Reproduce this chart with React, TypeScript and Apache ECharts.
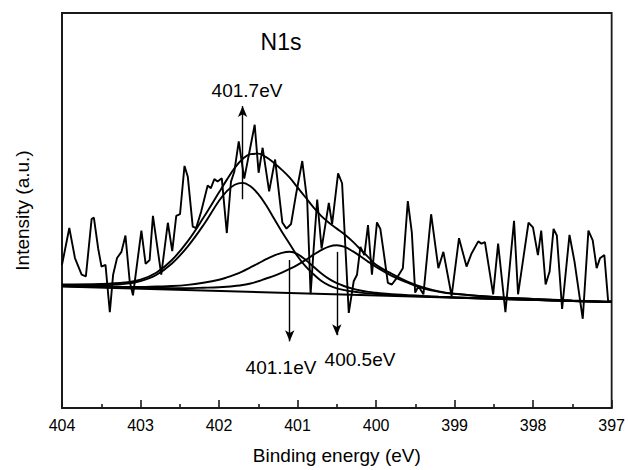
import React, { useEffect, useRef } from 'react';
import * as echarts from 'echarts';

// Raw N1s spectrum (binding energy in eV, intensity in arbitrary units)
const rawEnergy = [404.0, 403.907, 403.835, 403.75, 403.696, 403.623, 403.594, 403.54, 403.497, 403.446, 403.391, 403.349, 403.299, 403.243, 403.192, 403.138, 403.096, 402.989, 402.935, 402.884, 402.842, 402.736, 402.652, 402.596, 402.545, 402.497, 402.44, 402.398, 402.335, 402.292, 402.229, 402.145, 402.104, 402.06, 402.018, 401.965, 401.901, 401.848, 401.806, 401.749, 401.679, 401.546, 401.496, 401.445, 401.362, 401.286, 401.194, 401.141, 401.083, 401.024, 400.94, 400.877, 400.834, 400.792, 400.75, 400.694, 400.602, 400.56, 400.484, 400.433, 400.348, 400.285, 400.243, 400.2, 400.149, 400.103, 400.053, 399.989, 399.946, 399.904, 399.85, 399.799, 399.736, 399.659, 399.596, 399.545, 399.502, 399.46, 399.397, 399.299, 399.207, 399.143, 399.038, 398.944, 398.848, 398.784, 398.699, 398.658, 398.614, 398.509, 398.446, 398.353, 398.243, 398.192, 398.059, 398.002, 397.939, 397.897, 397.841, 397.79, 397.74, 397.698, 397.631, 397.537, 397.473, 397.368, 397.296, 397.241, 397.191, 397.149, 397.093, 397.045, 397.0];
const rawIntensity = [146, 183.7, 153, 136, 134.3, 192.7, 194.3, 163, 144.3, 146, 97.7, 136, 153, 159.3, 176, 129.3, 115, 181, 147, 151, 196, 136, 189, 160, 196, 197.7, 247, 236, 185, 183.5, 200, 227, 224.3, 233.5, 231, 234.3, 178.5, 231, 241, 272, 234, 289, 240, 265.5, 221, 253.5, 189.3, 183, 187.7, 216, 252, 211, 116, 166, 212.7, 162.7, 209.3, 187.7, 239.3, 229.3, 97, 129.3, 136, 164.3, 156, 186.7, 136, 189.3, 182.7, 159.3, 127.7, 126, 132.7, 142.7, 211, 179.3, 117.7, 124.3, 116, 197.7, 142.7, 159.3, 114.3, 173.3, 144.3, 157.7, 170, 167.7, 169.3, 116, 167.7, 97.7, 191, 116, 189, 184.3, 156, 181, 126, 139.3, 182.7, 176, 101, 176.7, 149.3, 91, 181, 171, 142.7, 152.7, 156, 109.3, 109];

// Fitted curves
const fitEnergy = [404.0, 403.5, 403.2, 403.0, 402.8, 402.6, 402.4, 402.2, 402.0, 401.9, 401.8, 401.7, 401.6, 401.5, 401.4, 401.3, 401.2, 401.1, 401.0, 400.9, 400.8, 400.7, 400.6, 400.5, 400.4, 400.3, 400.2, 400.1, 400.0, 399.8, 399.6, 399.4, 399.2, 399.0, 398.5, 398.0, 397.5, 397.0];
const envelope = [126, 126.5, 128, 131, 138, 151, 170, 194, 220, 233, 245, 254, 259, 259.5, 256, 250, 243, 235, 225, 215, 205, 196, 189, 183, 177, 170, 162, 154, 146, 137, 129, 123, 119, 116.5, 113.2, 111.2, 109.6, 108.3];
const peak4017 = [125.1, 125.1, 126.6, 129.5, 135.7, 147.4, 164.7, 186.5, 211.5, 221.3, 227.8, 229.7, 226.2, 218.2, 206.9, 193.3, 179.8, 167.4, 154.8, 144.7, 136.7, 129.8, 125.1, 122.1, 120.2, 118.8, 117.7, 117.0, 116.3, 115.4, 114.6, 113.9, 113.2, 112.6, 111.4, 110.3, 109.1, 108.0];
const peak4011 = [124.5, 123.8, 123.4, 123.4, 123.9, 124.4, 125.6, 127.8, 130.8, 133.2, 136.1, 139.5, 143.5, 147.5, 151.8, 155.5, 158.3, 159.4, 157.0, 151.3, 144.4, 137.5, 131.7, 127.3, 124.2, 121.8, 119.9, 118.5, 117.6, 116.1, 115.2, 114.3, 113.6, 113.0, 111.6, 110.4, 109.1, 108.0];
const peak4005 = [124.4, 123.5, 123.0, 122.7, 122.5, 122.3, 122.3, 122.7, 123.2, 123.7, 124.5, 125.5, 127.0, 129.3, 132.1, 134.8, 138.1, 141.9, 146.1, 150.9, 156.2, 161.0, 164.7, 166.0, 164.3, 160.0, 154.8, 149.1, 143.9, 134.9, 127.9, 122.0, 118.5, 116.4, 113.2, 111.3, 109.7, 108.4];
const baselineEnergy = [404, 397];
const baselineIntensity = [124, 108];

const peakCenters = [401.7, 401.1, 400.5];
const peakLabels = ['401.7eV', '401.1eV', '400.5eV'];
const title = 'N1s';

const FONT = "'Liberation Sans', Arial, Helvetica, sans-serif";

const zip = (xs: number[], ys: number[]) => xs.map((x, i) => [x, ys[i]]);

export default function App() {
  const ref = useRef<HTMLDivElement>(null);
  useEffect(() => {
    if (!ref.current) return;
    const chart = echarts.init(ref.current, undefined, { renderer: 'svg' });
    const lineCommon = {
      type: 'line' as const,
      showSymbol: false,
      symbol: 'none',
      silent: true,
      lineStyle: { color: '#000', width: 1.9 },
    };
    // arrow annotation geometry (intensity coordinates)
    const arrowFrom = [213, 151, 159.3];
    const arrowTo = [308, 68, 74.3];
    const option: any = {
      animation: false,
      grid: {
        left: 62, right: 14, top: 13, bottom: 54,
        show: true, borderColor: '#1a1a1a', borderWidth: 1.8,
      },
      xAxis: {
        type: 'value', min: 397, max: 404, interval: 1, inverse: true,
        axisLine: { show: true, lineStyle: { color: '#1a1a1a', width: 1.8 } },
        axisTick: { show: true, inside: true, length: 8, lineStyle: { color: '#1a1a1a', width: 1.6 } },
        minorTick: { show: true, splitNumber: 2, length: 4, lineStyle: { color: '#1a1a1a', width: 1.6 } },
        axisLabel: { color: '#000', fontSize: 16, fontFamily: FONT, margin: 9 },
        splitLine: { show: false },
        name: 'Binding energy (eV)', nameLocation: 'middle', nameGap: 38,
        nameTextStyle: { color: '#000', fontSize: 19, fontFamily: FONT },
      },
      yAxis: {
        type: 'value', min: 0, max: 403,
        axisLine: { show: true, lineStyle: { color: '#1a1a1a', width: 1.8 } },
        axisTick: { show: false }, axisLabel: { show: false }, splitLine: { show: false },
        name: 'Intensity (a.u.)', nameLocation: 'middle', nameGap: 30,
        nameTextStyle: { color: '#000', fontSize: 19, fontFamily: FONT },
      },
      series: [
        {
          ...lineCommon, data: zip(baselineEnergy, baselineIntensity),
          markLine: {
            silent: true, symbol: ['none', 'arrow'], symbolSize: [7, 11],
            lineStyle: { color: '#000', width: 1.4, type: 'solid' },
            label: { show: false },
            data: peakCenters.map((e, i) => [
              { coord: [e, arrowFrom[i]] },
              { coord: [e, arrowTo[i]] },
            ]),
          },
        },
        { ...lineCommon, smooth: 0.4, data: zip(fitEnergy, peak4005) },
        { ...lineCommon, smooth: 0.4, data: zip(fitEnergy, peak4011) },
        { ...lineCommon, smooth: 0.4, data: zip(fitEnergy, peak4017) },
        { ...lineCommon, smooth: 0.4, data: zip(fitEnergy, envelope) },
        { ...lineCommon, data: zip(rawEnergy, rawIntensity) },
      ],
      graphic: [
        { type: 'text', x: 281, y: 42, style: { text: title, font: `23px ${FONT}`, fill: '#000', align: 'center', verticalAlign: 'middle' } },
        { type: 'text', x: 247, y: 90, style: { text: peakLabels[0], font: `19px ${FONT}`, fill: '#000', align: 'center', verticalAlign: 'middle' } },
        { type: 'text', x: 281, y: 367, style: { text: peakLabels[1], font: `19px ${FONT}`, fill: '#000', align: 'center', verticalAlign: 'middle' } },
        { type: 'text', x: 360, y: 359, style: { text: peakLabels[2], font: `19px ${FONT}`, fill: '#000', align: 'center', verticalAlign: 'middle' } },
      ],
    };
    chart.setOption(option);
    return () => chart.dispose();
  }, []);
  return (
    <div
      ref={ref}
      style={{ position: 'fixed', left: 0, top: 0, width: 628, height: 470, background: '#fff' }}
    />
  );
}
